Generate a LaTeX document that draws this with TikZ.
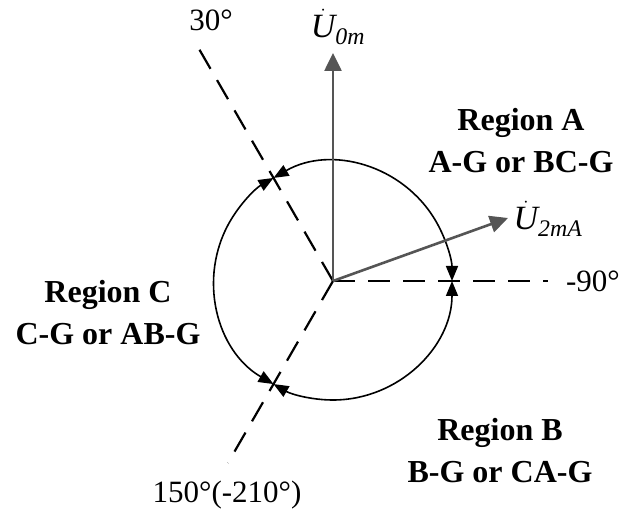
\documentclass[tikz,border=0pt]{standalone}
\usepackage{amsmath}
\usepackage{fontspec}
\setmainfont{Liberation Serif}
\usetikzlibrary{arrows.meta,calc}
\definecolor{vecgray}{RGB}{85,85,85}
\begin{document}
\begin{tikzpicture}[x=1pt,y=1pt,
  dashline/.style={line width=2.2pt, dash pattern=on 22pt off 13pt},
  arcline/.style={line width=1.6pt, {Triangle[length=15pt,width=12pt]}-{Triangle[length=15pt,width=12pt]}},
  vec/.style={line width=2.6pt, draw=vecgray, -{Triangle[length=18pt,width=17pt]}},
  region/.style={font=\fontsize{32}{42}\selectfont\bfseries, align=center},
  deg/.style={font=\fontsize{31}{36}\selectfont},
  vlabel/.style={font=\fontsize{34}{38}\selectfont}
]
\useasboundingbox (0,0) rectangle (621,514);
\coordinate (O) at (333,233);
\def\R{119}
\coordinate (P30) at ($(O)+(120:\R)$);
\coordinate (P90) at ($(O)+(0:\R)$);
\coordinate (P150) at ($(O)+(240:\R)$);
\coordinate (E30) at ($(O)+(120:276)$);
\coordinate (E90) at ($(O)+(0:215)$);
\coordinate (E150) at ($(O)+(240:210)$);
\coordinate (T0) at (333,461);
\coordinate (T2) at (508,296);
% dashed boundary lines
\draw[dashline] (O) -- (E30);
\draw[dashline] (O) -- (E90);
\draw[dashline] (O) -- (E150);
% circle arcs
\draw[arcline] (P30) arc[start angle=120, end angle=0, radius=\R];
\draw[arcline] (P90) arc[start angle=360, end angle=240, radius=\R];
\draw[arcline] (P150) arc[start angle=240, end angle=120, radius=\R];
% vectors
\draw[vec] (O) -- (T0);
\draw[vec] (O) -- (T2);
% labels
\node[vlabel] (LU0) at (338,487) {$\dot{\textit{U}}_{\textit{0m}}$};
\node[vlabel] (LU2) at (548,295) {$\dot{\textit{U}}_{\textit{2mA}}$};
\node[region] (RA) at (521,373) {Region A\\A-G or BC-G};
\node[region] (RC) at (108,201) {Region C\\C-G or AB-G};
\node[region] (RB) at (500,63) {Region B\\B-G or CA-G};
\node[deg] (L30) at (211,494) {30°};
\node[deg] (L90) at (593,233) {-90°};
\node[deg] (L150) at (227,19) {150°(-210°)};
\end{tikzpicture}
\end{document}
